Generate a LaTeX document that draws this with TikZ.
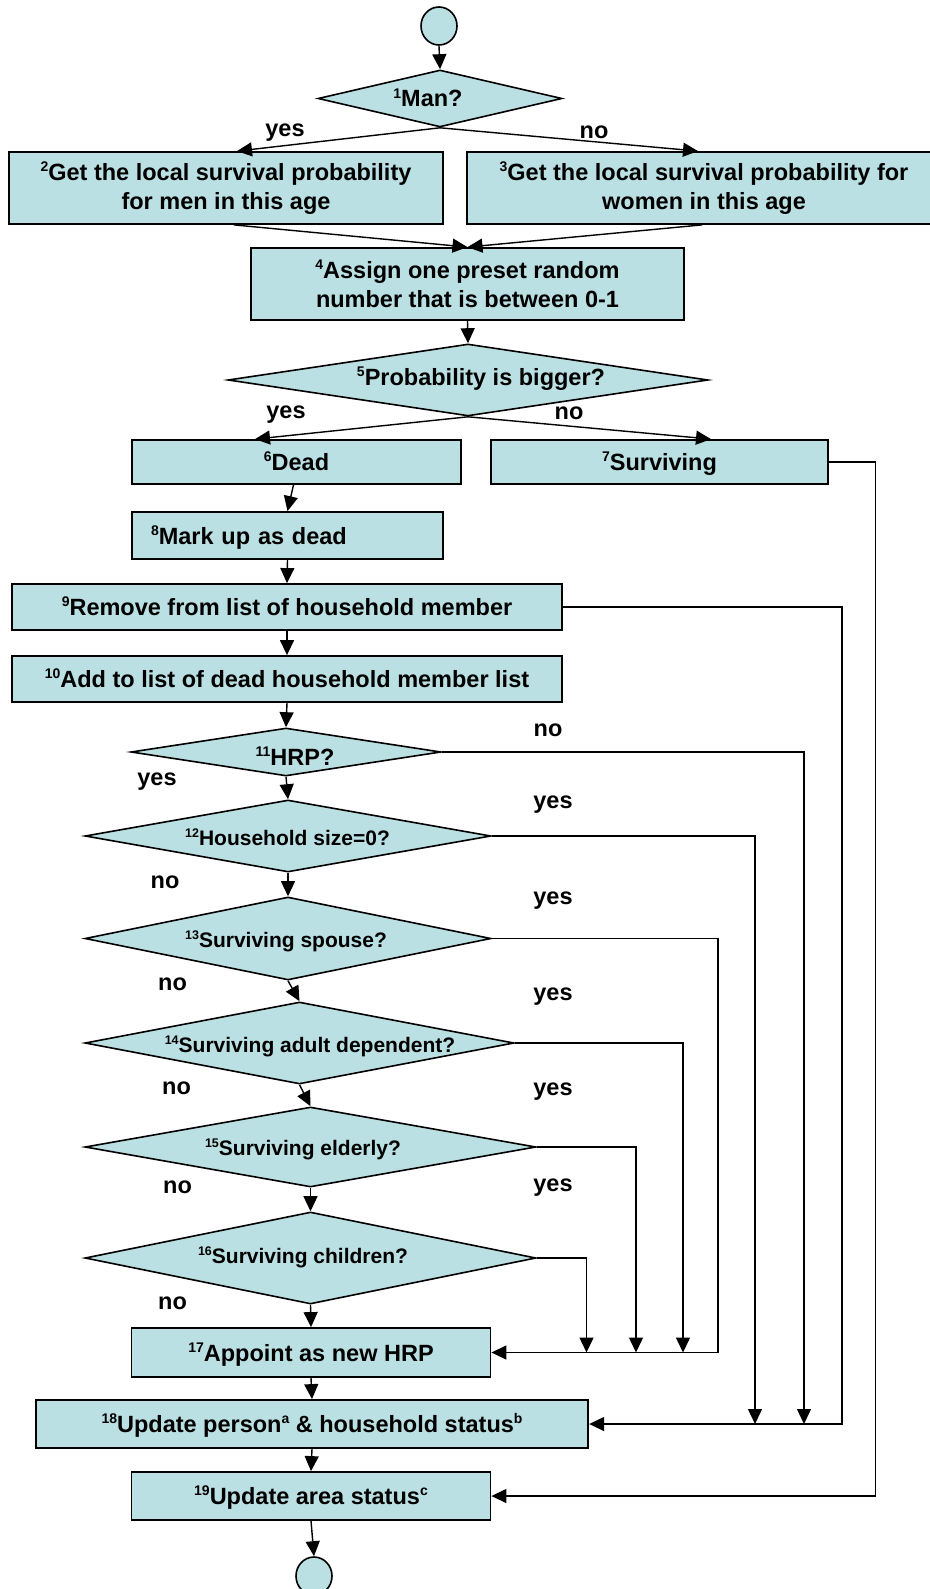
\documentclass[tikz,border=0pt]{standalone}
\usepackage{fontspec}
\setmainfont{Liberation Sans}
\usetikzlibrary{shapes.geometric,arrows.meta}
\definecolor{boxfill}{RGB}{187,224,227}
% step numbers and footnote marks set as small raised text
\newcommand{\nsup}[1]{\raisebox{0.38em}{\fontsize{14}{14}\selectfont #1}}
\newcommand{\ssup}[1]{\raisebox{0.38em}{\fontsize{12.5}{12.5}\selectfont #1}}

\begin{document}
\begin{tikzpicture}[x=1pt,y=-1pt,
  big/.style={font=\fontsize{23.5}{28.5}\selectfont\bfseries},
  small/.style={font=\fontsize{21}{25}\selectfont\bfseries},
  box/.style={rectangle, draw=black, fill=boxfill, line width=1.8pt, inner sep=0pt, align=center, big},
  oneline/.style={text height=20pt, text depth=3pt},
  dia/.style={diamond, draw=black, fill=boxfill, line width=1.6pt, inner sep=0pt, aspect=1},
  term/.style={ellipse, draw=black, fill=boxfill, line width=1.6pt, minimum width=36pt, minimum height=38pt, inner sep=0pt},
  lbl/.style={big, inner sep=0pt},
  conn/.style={line width=1.4pt, -{Triangle[length=15pt,width=14pt]}},
]
\useasboundingbox (0,0) rectangle (929,1589);

% ---- shapes ----
\node[term] (s) at (439,26) {};
\node[dia, minimum width=244pt, minimum height=57pt] (d1) at (440,98.5) {};
\node[lbl, anchor=base] (t1) at (428,107) {\nsup{1}Man?};

\node[box, minimum width=434pt, minimum height=72pt] (b2) at (226,188)
  {\nsup{2}Get the local survival probability\\for men in this age};
\node[box, minimum width=474pt, minimum height=72pt] (b3) at (704,188)
  {\nsup{3}Get the local survival probability for\\women in this age};
\node[box, minimum width=433pt, minimum height=72pt] (b4) at (467.5,284)
  {\nsup{4}Assign one preset random\\number that is between 0-1};

\node[dia, minimum width=480pt, minimum height=72pt] (d5) at (468,380) {};
\node[lbl, anchor=base] (t5) at (481,385) {\nsup{5}Probability is bigger?};

\node[box, oneline, minimum width=329pt, minimum height=44pt] (b6) at (296.5,462) {\nsup{6}Dead};
\node[box, oneline, minimum width=337pt, minimum height=44pt] (b7) at (659.5,462) {\nsup{7}Surviving};
\node[box, oneline, minimum width=311pt, minimum height=47pt, text width=273pt, align=left, inner xsep=19pt]
  (b8) at (287.5,535.5) {\nsup{8}Mark up as dead};
\node[box, oneline, minimum width=550pt, minimum height=46pt] (b9) at (287,607)
  {\nsup{9}Remove from list of household member};
\node[box, oneline, minimum width=550pt, minimum height=46pt] (b10) at (287,679)
  {\nsup{10}Add to list of dead household member list};

\node[dia, minimum width=310pt, minimum height=48pt] (d11) at (286,752) {};
\node[lbl, anchor=base] (t11) at (295,765) {\nsup{11}HRP?};
\node[dia, minimum width=406pt, minimum height=72pt] (d12) at (288,836) {};
\node[lbl, small, anchor=base] (t12) at (287.5,845.5) {\ssup{12}Household size=0?};
\node[dia, minimum width=406pt, minimum height=83pt] (d13) at (288,938.5) {};
\node[lbl, small, anchor=base] (t13) at (286,947) {\ssup{13}Surviving spouse?};
\node[dia, minimum width=429pt, minimum height=82pt] (d14) at (299.5,1043) {};
\node[lbl, small, anchor=base] (t14) at (310,1052) {\ssup{14}Surviving adult dependent?};
\node[dia, minimum width=451pt, minimum height=80pt] (d15) at (310.5,1147) {};
\node[lbl, small, anchor=base] (t15) at (303,1155) {\ssup{15}Surviving elderly?};
\node[dia, minimum width=451pt, minimum height=92pt] (d16) at (310.5,1258) {};
\node[lbl, small, anchor=base] (t16) at (303,1263) {\ssup{16}Surviving children?};

\node[box, oneline, minimum width=359pt, minimum height=49pt] (b17) at (311,1352.5) {\nsup{17}Appoint as new HRP};
\node[box, oneline, minimum width=552.5pt, minimum height=48pt] (b18) at (312,1424)
  {\nsup{18}Update person\nsup{a} \& household status\nsup{b}};
\node[box, oneline, minimum width=359pt, minimum height=48pt] (b19) at (311,1496) {\nsup{19}Update area status\nsup{c}};
\node[term] (e) at (314,1576) {};

% ---- branch labels ----
\node[lbl] (y1) at (285,133) {yes};
\node[lbl] (n1) at (594,132) {no};
\node[lbl] (y5) at (286,415) {yes};
\node[lbl] (n5) at (569,413) {no};
\node[lbl] (n11) at (548,730) {no};
\node[lbl] (y11) at (157,782) {yes};
\node[lbl] (y12) at (553,805) {yes};
\node[lbl] (n12) at (165,882) {no};
\node[lbl] (y13) at (553,901) {yes};
\node[lbl] (n13) at (172.5,984) {no};
\node[lbl] (y14) at (553,997) {yes};
\node[lbl] (n14) at (176.5,1088) {no};
\node[lbl] (y15) at (553,1092) {yes};
\node[lbl] (n15) at (177.5,1187) {no};
\node[lbl] (y16) at (553,1188) {yes};
\node[lbl] (n16) at (172.5,1303) {no};

% ---- main flow ----
\draw[conn] (s.south) -- (d1.north);
\draw[conn] (d1.south) -- ([xshift=11pt]b2.north);
\draw[conn] (d1.south) -- ([xshift=-6pt]b3.north);
\draw[conn] ([xshift=8pt]b2.south) -- (b4.north);
\draw[conn] ([xshift=-2pt]b3.south) -- (b4.north);
\draw[conn] (b4.south) -- (d5.north);
\draw[conn] (d5.south) -- ([xshift=-41.5pt]b6.north);
\draw[conn] (d5.south) -- ([xshift=51.5pt]b7.north);
\draw[conn] ([xshift=-3pt]b6.south) -- (b8.north);
\draw[conn] (b8.south) -- (b9.north);
\draw[conn] (b9.south) -- (b10.north);
\draw[conn] (b10.south) -- (d11.north);
\draw[conn] (d11.south) -- (d12.north);
\draw[conn] (d12.south) -- (d13.north);
\draw[conn] (d13.south) -- (d14.north);
\draw[conn] (d14.south) -- (d15.north);
\draw[conn] (d15.south) -- (d16.north);
\draw[conn] (d16.south) -- (b17.north);
\draw[conn] (b17.south) -- (b18.north);
\draw[conn] (b18.south) -- (b19.north);
\draw[conn] (b19.south) -- (e.north);

% ---- side returns ----
\coordinate (x7) at (875.5,0);
\coordinate (x9) at (842,0);
\coordinate (x11) at (804,0);
\coordinate (x12) at (755,0);
\coordinate (x13) at (718,0);
\coordinate (x14) at (683,0);
\coordinate (x15) at (636,0);
\coordinate (x16) at (586.5,0);

\draw[conn] (d11.east) -| (x11 |- b18.east);
\draw[conn] (d12.east) -| (x12 |- b18.east);
\draw[conn] (b9.east) -| (x9 |- b18.east) -- (b18.east);
\draw[conn] (d13.east) -| (x13 |- b17.east) -- (b17.east);
\draw[conn] (d14.east) -| (x14 |- b17.east);
\draw[conn] (d15.east) -| (x15 |- b17.east);
\draw[conn] (d16.east) -| (x16 |- b17.east);
\draw[conn] (b7.east) -| (x7 |- b19.east) -- (b19.east);
\end{tikzpicture}
\end{document}
